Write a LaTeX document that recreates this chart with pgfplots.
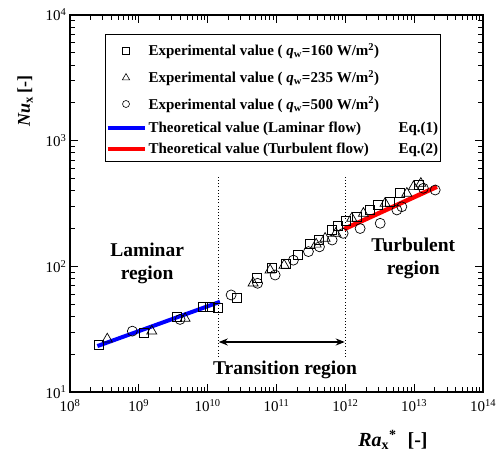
\documentclass[border=0pt]{standalone}
\usepackage{fontspec}
\setmainfont{Liberation Serif}
\usepackage{pgfplots}
\pgfplotsset{compat=1.18}
\usetikzlibrary{arrows.meta}
\pgfplotsset{
  mylinelegend/.style={legend image code/.code={\draw[##1] (0pt,0pt) -- (37pt,0pt);}},
  mymarklegend/.style={legend image code/.code={\draw[##1] plot coordinates {(18.5pt,0pt)};}},
}
\begin{document}
\begin{tikzpicture}
\useasboundingbox (-70pt,-71pt) rectangle (430pt,392pt);
\begin{axis}[
  scale only axis, width=413pt, height=377pt,
  xmode=log, ymode=log, log basis x=10, log basis y=10,
  xmin=1e8, xmax=1e14, ymin=10, ymax=1e4,
  axis line style={line width=1.2pt},
  tick style={line width=0.9pt, black},
  major tick length=8pt, minor tick length=5pt,
  tick align=inside,
  xtick={1e8,1e9,1e10,1e11,1e12,1e13,1e14},
  ytick={1e1,1e2,1e3,1e4},
  minor xtick={2e8,3e8,4e8,5e8,6e8,7e8,8e8,9e8,
    2e9,3e9,4e9,5e9,6e9,7e9,8e9,9e9,
    2e10,3e10,4e10,5e10,6e10,7e10,8e10,9e10,
    2e11,3e11,4e11,5e11,6e11,7e11,8e11,9e11,
    2e12,3e12,4e12,5e12,6e12,7e12,8e12,9e12,
    2e13,3e13,4e13,5e13,6e13,7e13,8e13,9e13},
  minor ytick={20,30,40,50,60,70,80,90,200,300,400,500,600,700,800,900,2000,3000,4000,5000,6000,7000,8000,9000},
  xticklabel={10\textsuperscript{\pgfmathparse{int(round(\tick))}\pgfmathresult}},
  yticklabel={10\textsuperscript{\pgfmathparse{int(round(\tick))}\pgfmathresult}},
  /pgf/number format/assume math mode=true,
  tick label style={font=\fontsize{15}{15}\selectfont},
  xticklabel style={yshift=-4pt},
  xlabel={\textbf{\textit{Ra}}\textsubscript{\textbf{x}}\textsuperscript{\textbf{*}}\hspace{11pt}\textbf{[-]}},
  ylabel={\textbf{\textit{Nu}}\textsubscript{\textbf{x}}\hspace{4pt}\textbf{[-]}},
  xlabel style={at={(axis description cs:0.782,-0.127)}, anchor=center, font=\fontsize{20}{20}\selectfont},
  ylabel style={at={(axis description cs:-0.109,0.772)}, anchor=center, font=\fontsize{18}{18}\selectfont},
  legend style={at={(axis description cs:0.085,0.95)}, anchor=north west, draw=black, line width=0.8pt,
    font=\fontsize{15}{16}\selectfont\bfseries, inner xsep=0pt, inner ysep=3pt, row sep=0pt,
    nodes={inner ysep=0pt, inner xsep=2pt}, cells={anchor=west}},
  legend cell align=left,
]
\addlegendimage{mymarklegend, only marks, mark=square, mark size=3.3pt, black, line width=0.6pt}
\addlegendentry[text height=18.5pt, text depth=8.5pt]{Experimental value ( \textit{q}\textsubscript{w}=160 W/m\textsuperscript{2})}
\addlegendimage{mymarklegend, only marks, mark=triangle, mark size=4.2pt, black, line width=0.6pt}
\addlegendentry[text height=18.5pt, text depth=8.5pt]{Experimental value ( \textit{q}\textsubscript{w}=235 W/m\textsuperscript{2})}
\addlegendimage{mymarklegend, only marks, mark=o, mark size=3.5pt, black, line width=0.6pt}
\addlegendentry[text height=17.75pt, text depth=7.75pt]{Experimental value ( \textit{q}\textsubscript{w}=500 W/m\textsuperscript{2})}
\addlegendimage{mylinelegend, blue, line width=4pt}
\addlegendentry[text height=16pt, text depth=6pt]{\makebox[250pt][l]{Theoretical value (Laminar flow)}Eq.(1)\hspace{16pt}}
\addlegendimage{mylinelegend, red, line width=4pt}
\addlegendentry[text height=15pt, text depth=5pt]{\makebox[250pt][l]{Theoretical value (Turbulent flow)}Eq.(2)\hspace{16pt}}

% dotted boundaries
\addplot[forget plot, black, line width=1pt, dash pattern=on 1pt off 2.2pt] coordinates {(1.43e10,19) (1.43e10,532)};
\addplot[forget plot, black, line width=1pt, dash pattern=on 1pt off 2.2pt] coordinates {(1e12,19) (1e12,532)};
% arrow
\addplot[forget plot, black, line width=1.5pt, {Stealth[length=9pt,width=7pt]}-{Stealth[length=9pt,width=7pt]}] coordinates {(1.45e10,25) (9.8e11,25)};

% squares
\addplot[forget plot, only marks, mark=square, mark size=4.5pt, black, line width=0.7pt] table {
x y
2.64e8 23.9
1.18e9 29.6
3.56e9 39.7
8.65e9 47.7
1.08e10 47.7
1.40e10 46.9
2.65e10 56.6
5.22e10 80.7
8.63e10 96.4
1.38e11 104
2.01e11 123
3.01e11 150
4.12e11 162
6.28e11 194
7.85e11 211
1.01e12 229
1.47e12 248
2.29e12 281
2.93e12 308
4.38e12 327
6.27e12 381
1.16e13 443
};
% triangles
\addplot[forget plot, only marks, mark=triangle, mark size=5.8pt, black, line width=0.7pt] table {
x y
3.48e8 26.4
1.54e9 30.5
4.70e9 38.5
4.57e10 73.6
8.07e10 93.5
1.29e11 102
3.77e11 150
5.08e11 167
7.28e11 183
1.24e12 241
1.83e12 264
3.78e12 317
7.83e12 381
9.78e12 430
1.25e13 457
};
% circles
\addplot[forget plot, only marks, mark=o, mark size=5pt, black, line width=0.7pt] table {
x y
8.05e8 30.5
3.97e9 37.8
2.19e10 59.2
5.31e10 73.3
9.55e10 85.3
1.76e11 112
2.91e11 131
4.21e11 143
6.43e11 162
9.29e11 183
1.64e12 200
3.21e12 220
5.61e12 281
6.62e12 298
1.36e13 418
2.02e13 405
};
% theoretical lines
\addplot[forget plot, blue, line width=4pt] coordinates {(2.5e8,23.2) (1.51e10,52.2)};
\addplot[forget plot, red, line width=4.5pt] coordinates {(9.6e11,198) (2.14e13,430)};

\node[align=center, font=\fontsize{19.5}{23}\selectfont\bfseries] at (axis cs:1.32e9,106) {Laminar\\region};
\node[align=center, font=\fontsize{19.5}{23}\selectfont\bfseries] at (axis cs:9.7e12,116) {Turbulent\\region};
\node[font=\fontsize{19.5}{23}\selectfont\bfseries] at (axis cs:1.33e11,15) {Transition region};
\end{axis}
\end{tikzpicture}
\end{document}
